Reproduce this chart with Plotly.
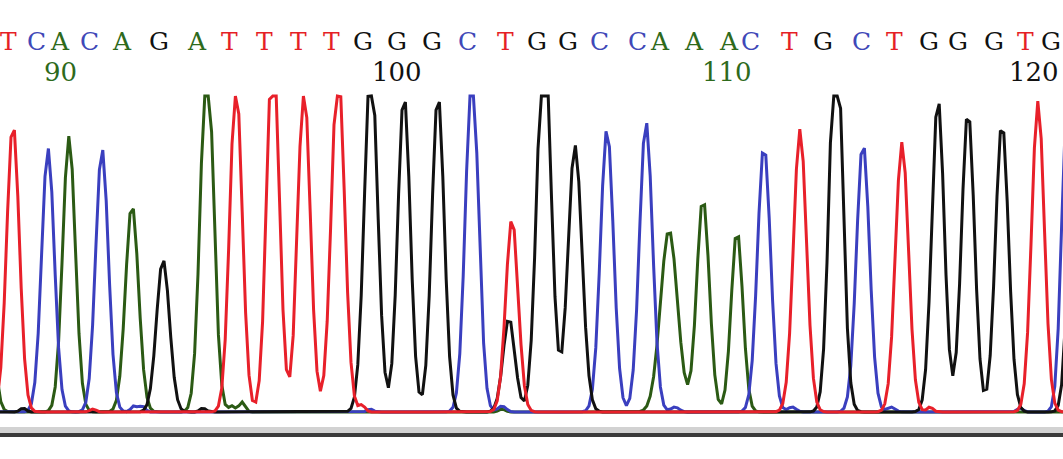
import numpy as np
import plotly.graph_objects as go

# base calls shown above the trace (positions 88-120)
bases = list("TCACAGATTTTGGGCTGGCCAAACTGCTGGGTG")
base_x = [8, 36, 60, 89, 122, 159, 197, 229, 264, 298, 331, 363, 397, 432, 467, 505, 537,
          568, 599, 637, 660, 694, 729, 750, 789, 823, 861, 894, 929, 958, 994, 1025, 1051]
tick_labels = ["90", "100", "110", "120"]
tick_x = [60, 397, 727, 1034]
tick_base = ["A", "G", "A", "G"]

# peaks per dye channel: scan position, height, width
a_pos = [-15, 69, 132, 207, 232, 242, 502, 669, 703, 737]
a_hgt = [200, 276, 208, 360, 6, 10, 3, 182, 214, 182]
a_wid = [6.5, 6.3, 6.5, 6.5, 3, 3, 3, 8.5, 6.3, 5.8]

c_pos = [48, 102, 134, 142, 370, 472, 502, 607, 646, 675, 764, 792, 863, 891, 1020, 1067]
c_hgt = [264, 264, 6, 6, 3, 340, 6, 284, 291, 5, 267, 5, 270, 5, 4, 300]
c_wid = [6.3, 6.3, 3, 3, 3, 6.5, 4, 6.5, 6.5, 4, 6.5, 4, 6.5, 4, 3, 5.5]

g_pos = [23, 163, 203, 371, 404, 438, 509, 544, 575, 836, 938, 968, 1002, 1075]
g_hgt = [4, 153, 4, 350, 318, 318, 94, 380, 267, 390, 314, 302, 290, 330]
g_wid = [3, 6.5, 3, 6.6, 6.2, 6.2, 6, 7, 7, 6.5, 6.2, 6.4, 6.5, 6]

t_pos = [13, 93, 236, 273, 304, 338, 362, 512, 800, 902, 930, 1038]
t_hgt = [289, 3, 330, 370, 325, 345, 7, 194, 283, 270, 5, 311]
t_wid = [6.3, 3, 6.2, 6.2, 6.3, 6.6, 3, 6.2, 6.5, 6.5, 3, 6.3]

colors = {"A": "#2b5a14", "C": "#3a3fbf", "G": "#111111", "T": "#e8202a"}
text_colors = {"A": "#2e6a1c", "C": "#4048b8", "G": "#111111", "T": "#e51f26"}

CLIP = 316
scans = np.arange(-40, 1100, 3.4)


def trace_y(pos, hgt, wid):
    y = np.zeros_like(scans)
    for p, h, w in zip(pos, hgt, wid):
        y += h * np.exp(-((scans - p) ** 2) / (2 * w * w))
    return np.minimum(y, CLIP)


fig = go.Figure()
for name, pos, hgt, wid in [("A", a_pos, a_hgt, a_wid), ("C", c_pos, c_hgt, c_wid),
                            ("G", g_pos, g_hgt, g_wid), ("T", t_pos, t_hgt, t_wid)]:
    fig.add_trace(go.Scatter(x=scans, y=trace_y(pos, hgt, wid), mode="lines",
                             line=dict(color=colors[name], width=3),
                             hoverinfo="skip", showlegend=False))

for b, x in zip(bases, base_x):
    fig.add_annotation(x=x, y=371, text=b, showarrow=False, xanchor="center", yanchor="middle",
                       font=dict(family="DejaVu Serif", size=25, color=text_colors[b]))
for t, x, b in zip(tick_labels, tick_x, tick_base):
    fig.add_annotation(x=x, y=340, text=t, showarrow=False, xanchor="center", yanchor="middle",
                       font=dict(family="DejaVu Serif", size=26, color=text_colors[b]))

# grey bar under the trace
fig.add_shape(type="rect", x0=0, x1=1063, y0=-21, y1=-15, line_width=0, fillcolor="#d2d2d2")
fig.add_shape(type="rect", x0=0, x1=1063, y0=-25, y1=-21, line_width=0, fillcolor="#3a3a3a")

fig.update_layout(width=1063, height=459, margin=dict(l=0, r=0, t=0, b=0),
                  paper_bgcolor="white", plot_bgcolor="white",
                  xaxis=dict(range=[0, 1063], visible=False),
                  yaxis=dict(range=[-47, 412], visible=False))
fig.write_html("out.html", config={"displayModeBar": False},
               post_script="document.body.style.margin='0';")
